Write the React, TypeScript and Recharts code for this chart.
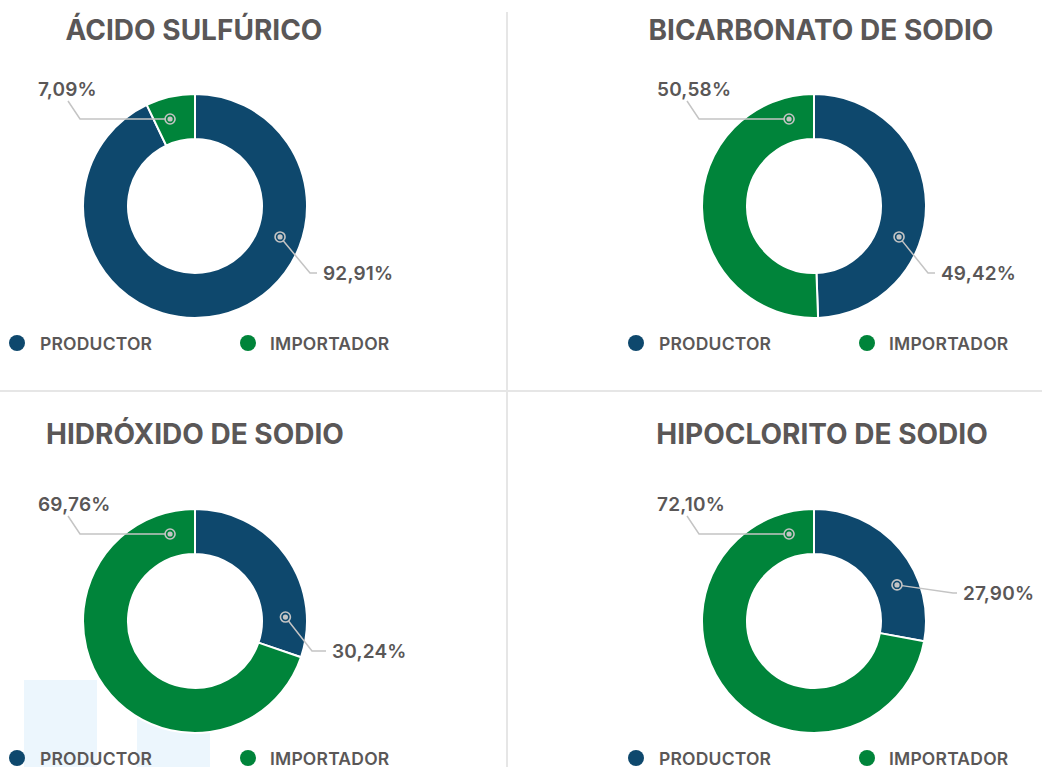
import React from "react";
import { PieChart, Pie, Cell, Legend } from "recharts";

// categorías y colores
const categories = ["PRODUCTOR", "IMPORTADOR"];
const sliceColors = ["#0e486d", "#00843a"];

// porcentajes por producto (productor, importador)
const acidoSulfurico = [92.91, 7.09];
const bicarbonatoSodio = [49.42, 50.58];
const hidroxidoSodio = [30.24, 69.76];
const hipocloritoSodio = [27.9, 72.1];

const titles = ["ÁCIDO SULFÚRICO", "BICARBONATO DE SODIO", "HIDRÓXIDO DE SODIO", "HIPOCLORITO DE SODIO"];

const FONT = "Inter, 'Open Sans', sans-serif";
const TEXT = "#5a5757";
const LINE = "#c4c4c4";
const RAD = Math.PI / 180;

const fmt = (v: number) => v.toFixed(2).replace(".", ",") + "%";

type LabelCfg = { angle: number; elbowX: number; labelY: number; textX: number };

function Marker({ x, y }: { x: number; y: number }) {
  return (
    <g>
      <circle cx={x} cy={y} r={5} fill="none" stroke={LINE} strokeWidth={1.6} />
      <circle cx={x} cy={y} r={2.6} fill={LINE} />
    </g>
  );
}

const makeLabel = (right: LabelCfg) => (props: any) => {
  const { cx, cy, index, innerRadius, outerRadius, value } = props;
  const r = (innerRadius + outerRadius) / 2 + 1;
  const textStyle = { fontFamily: FONT, fontWeight: 600, fontSize: 19, fill: TEXT, letterSpacing: 0.2 };
  if (index === 1) {
    const a = 106;
    const dx = cx + r * Math.cos(-a * RAD);
    const dy = cy + r * Math.sin(-a * RAD);
    const ex = cx - 115;
    return (
      <g>
        <polyline points={`${dx - 5},${dy} ${ex},${dy} ${ex - 12},${dy - 18}`} fill="none" stroke={LINE} strokeWidth={1.5} />
        <Marker x={dx} y={dy} />
        <text x={cx - 157} y={dy - 30} dominantBaseline="central" style={textStyle}>
          {fmt(value)}
        </text>
      </g>
    );
  }
  const dx = cx + r * Math.cos(-right.angle * RAD);
  const dy = cy + r * Math.sin(-right.angle * RAD);
  const ex = cx + right.elbowX;
  const ey = cy + right.labelY;
  const len = Math.hypot(ex - dx, ey - dy);
  const sx = dx + ((ex - dx) / len) * 5;
  const sy = dy + ((ey - dy) / len) * 5;
  return (
    <g>
      <polyline points={`${sx},${sy} ${ex},${ey} ${cx + right.textX - 6},${ey}`} fill="none" stroke={LINE} strokeWidth={1.5} />
      <Marker x={dx} y={dy} />
      <text x={cx + right.textX} y={ey} dominantBaseline="central" style={textStyle}>
        {fmt(value)}
      </text>
    </g>
  );
};

const renderLegend = ({ payload }: any) => {
  const items = [...(payload || [])].sort(
    (a: any, b: any) => categories.indexOf(a.value) - categories.indexOf(b.value)
  );
  return (
    <div style={{ position: "relative", height: 20, width: 420 }}>
      {items.map((p: any, i: number) => (
        <div
          key={p.value}
          style={{ position: "absolute", left: i === 0 ? 9 : 240, top: 0, height: 20, display: "flex", alignItems: "center" }}
        >
          <span style={{ width: 16, height: 16, borderRadius: 8, background: p.color, display: "inline-block" }} />
          <span style={{ marginLeft: i === 0 ? 15 : 14, fontFamily: FONT, fontWeight: 600, fontSize: 17.5, color: TEXT, letterSpacing: 0.2 }}>
            {p.value}
          </span>
        </div>
      ))}
    </div>
  );
};

function Panel({ title, values, left, top, titleX, titleY, right }: {
  title: string; values: number[]; left: number; top: number; titleX: number; titleY: number; right: LabelCfg;
}) {
  const data = categories.map((name, i) => ({ name, value: values[i] }));
  return (
    <div style={{ position: "absolute", left, top, width: 420, height: 370 }}>
      <div
        style={{
          position: "absolute", left: titleX - 210, top: titleY - 18, width: 420, textAlign: "center",
          fontFamily: FONT, fontWeight: 700, fontSize: 28, color: TEXT, lineHeight: "36px", letterSpacing: 0,
        }}
      >
        {title}
      </div>
      <div style={{ position: "absolute", left: 0, top: 56 }}>
        <PieChart width={420} height={320} margin={{ top: 0, right: 0, bottom: 0, left: 0 }}>
          <Pie
            data={data}
            dataKey="value"
            nameKey="name"
            cx={195}
            cy={150}
            innerRadius={67}
            outerRadius={112}
            startAngle={90}
            endAngle={-270}
            stroke="#ffffff"
            strokeWidth={2}
            label={makeLabel(right)}
            labelLine={false}
            isAnimationActive={false}
          >
            {data.map((d, i) => (
              <Cell key={d.name} fill={sliceColors[i]} />
            ))}
          </Pie>
          <Legend content={renderLegend} wrapperStyle={{ position: "absolute", left: 0, top: 277, width: 420 }} />
        </PieChart>
      </div>
    </div>
  );
}

export default function App() {
  return (
    <div style={{ position: "absolute", left: 0, top: 0, width: 1042, height: 767, overflow: "hidden", background: "#fff" }}>
      {/* fondos celestes */}
      <div style={{ position: "absolute", left: 24, top: 680, width: 73, height: 90, background: "#ecf6fd" }} />
      <div style={{ position: "absolute", left: 137, top: 718, width: 73, height: 52, background: "#ecf6fd" }} />
      {/* divisores */}
      <div style={{ position: "absolute", left: 506, top: 12, width: 2, height: 760, background: "#e6e6e6" }} />
      <div style={{ position: "absolute", left: 0, top: 390, width: 1042, height: 2, background: "#e6e6e6" }} />

      <Panel title={titles[0]} values={acidoSulfurico} left={0} top={0} titleX={194} titleY={30}
        right={{ angle: -20, elbowX: 115, labelY: 67, textX: 128 }} />
      <Panel title={titles[1]} values={bicarbonatoSodio} left={619} top={0} titleX={202} titleY={30}
        right={{ angle: -20, elbowX: 114, labelY: 67, textX: 127 }} />
      <Panel title={titles[2]} values={hidroxidoSodio} left={0} top={415} titleX={195} titleY={19}
        right={{ angle: 2.5, elbowX: 117, labelY: 30, textX: 137 }} />
      <Panel title={titles[3]} values={hipocloritoSodio} left={619} top={415} titleX={203} titleY={19}
        right={{ angle: 23.5, elbowX: 139, labelY: -28, textX: 149 }} />
    </div>
  );
}
